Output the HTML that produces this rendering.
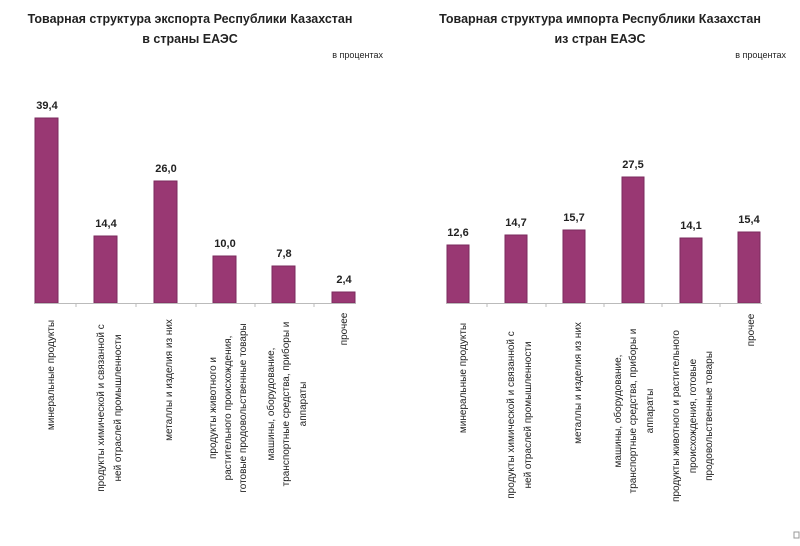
<!DOCTYPE html><html><head><meta charset="utf-8"><style>body{margin:0;background:#fff}svg{display:block}text{font-family:"Liberation Sans",sans-serif;fill:#222}</style></head><body>
<svg width="800" height="546" viewBox="0 0 800 546">
<g font-weight="bold" font-size="12.5" text-anchor="middle">
<text x="190" y="23">Товарная  структура  экспорта  Республики  Казахстан</text>
<text x="190" y="43">в страны  ЕАЭС</text>
<text x="600" y="23">Товарная  структура  импорта  Республики  Казахстан</text>
<text x="600" y="43">из стран ЕАЭС</text>
</g>
<g font-size="9" text-anchor="end"><text x="383" y="58">в процентах</text><text x="786" y="58">в процентах</text></g>
<g fill="#993873" stroke="#7a2a5c" stroke-width="1">
<rect x="35" y="118" width="23" height="185"/><rect x="94" y="236" width="23" height="67"/><rect x="154" y="181" width="23" height="122"/><rect x="213" y="256" width="23" height="47"/><rect x="272" y="266" width="23" height="37"/><rect x="332" y="292" width="23" height="11"/>
<rect x="447" y="245" width="22" height="58"/><rect x="505" y="235" width="22" height="68"/><rect x="563" y="230" width="22" height="73"/><rect x="622" y="177" width="22" height="126"/><rect x="680" y="238" width="22" height="65"/><rect x="738" y="232" width="22" height="71"/>
</g>
<g stroke="#bbb" stroke-width="1">
<line x1="34" y1="303.5" x2="356" y2="303.5"/><line x1="76" y1="303" x2="76" y2="307"/><line x1="136" y1="303" x2="136" y2="307"/><line x1="196" y1="303" x2="196" y2="307"/><line x1="255" y1="303" x2="255" y2="307"/><line x1="314" y1="303" x2="314" y2="307"/>
<line x1="446" y1="303.5" x2="762" y2="303.5"/><line x1="487" y1="303" x2="487" y2="307"/><line x1="546" y1="303" x2="546" y2="307"/><line x1="604" y1="303" x2="604" y2="307"/><line x1="662" y1="303" x2="662" y2="307"/><line x1="720" y1="303" x2="720" y2="307"/>
</g>
<g font-size="11" font-weight="bold" text-anchor="middle" style="fill:#333">
<text x="47" y="109">39,4</text><text x="106" y="227">14,4</text><text x="166" y="172">26,0</text><text x="225" y="247">10,0</text><text x="284" y="257">7,8</text><text x="344" y="283">2,4</text>
<text x="458" y="236">12,6</text><text x="516" y="226">14,7</text><text x="574" y="221">15,7</text><text x="633" y="168">27,5</text><text x="691" y="229">14,1</text><text x="749" y="223">15,4</text>
</g>
<g font-size="10" text-anchor="middle">
<text transform="translate(54,375) rotate(-90)">минеральные продукты</text>
<text transform="translate(104,408) rotate(-90)">продукты химической и связанной с</text>
<text transform="translate(121,408) rotate(-90)">ней отраслей промышленности</text>
<text transform="translate(172,380) rotate(-90)">металлы и изделия из них</text>
<text transform="translate(216,408) rotate(-90)">продукты животного и</text>
<text transform="translate(231,408) rotate(-90)">растительного происхождения,</text>
<text transform="translate(246,408) rotate(-90)">готовые продовольственные товары</text>
<text transform="translate(274,404) rotate(-90)">машины, оборудование,</text>
<text transform="translate(289,404) rotate(-90)">транспортные средства, приборы и</text>
<text transform="translate(306,404) rotate(-90)">аппараты</text>
<text transform="translate(347,329) rotate(-90)">прочее</text>
<text transform="translate(466,378) rotate(-90)">минеральные продукты</text>
<text transform="translate(514,415) rotate(-90)">продукты химической и связанной с</text>
<text transform="translate(531,415) rotate(-90)">ней отраслей промышленности</text>
<text transform="translate(581,383) rotate(-90)">металлы и изделия из них</text>
<text transform="translate(621,411) rotate(-90)">машины, оборудование,</text>
<text transform="translate(636,411) rotate(-90)">транспортные средства, приборы и</text>
<text transform="translate(653,411) rotate(-90)">аппараты</text>
<text transform="translate(679,416) rotate(-90)">продукты животного и растительного</text>
<text transform="translate(696,416) rotate(-90)">происхождения, готовые</text>
<text transform="translate(712,416) rotate(-90)">продовольственные товары</text>
<text transform="translate(754,330) rotate(-90)">прочее</text>
</g>
<rect x="794" y="532" width="5" height="6" fill="none" stroke="#999" stroke-width="1"/>
</svg></body></html>
